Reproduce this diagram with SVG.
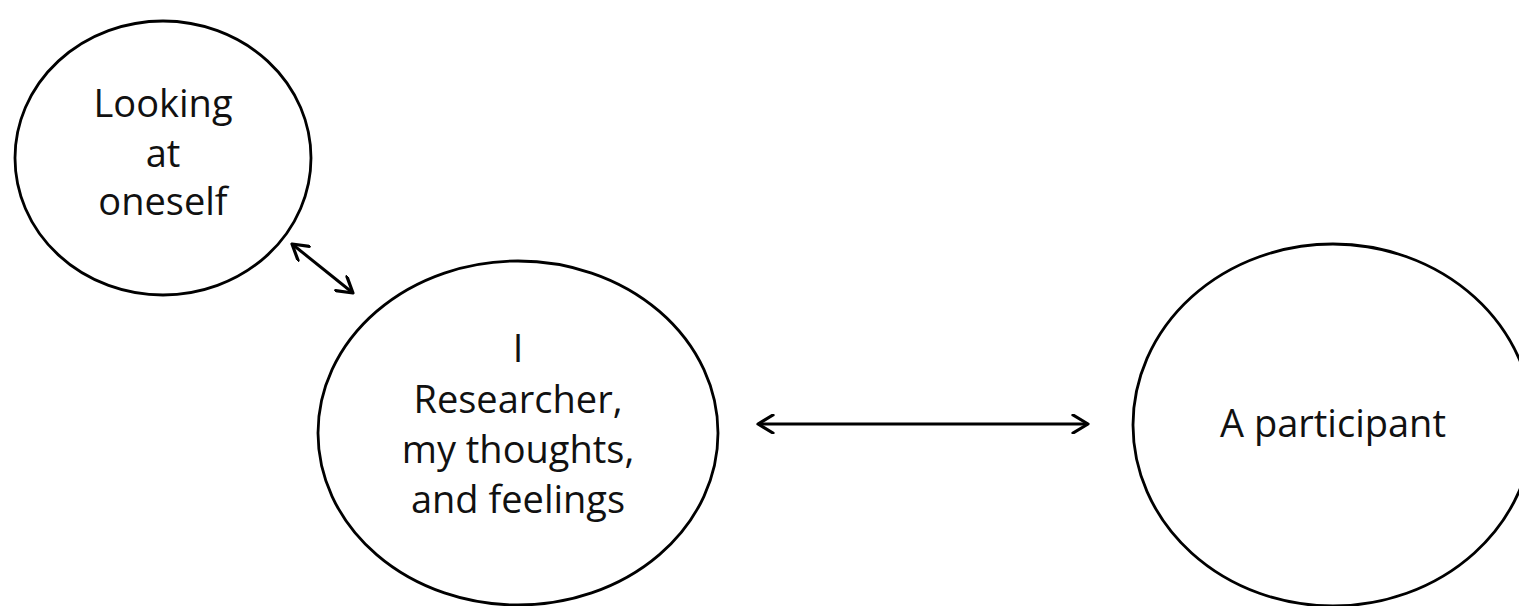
<svg xmlns="http://www.w3.org/2000/svg" width="1519" height="606" viewBox="0 0 1519 606">
<style>
.node ellipse{fill:#fff;stroke:#000;stroke-width:2.8}
.node text{font-family:"Open Sans","Liberation Sans",sans-serif;font-size:38px;fill:#111;text-anchor:middle}
.conn line{stroke:#000;stroke-width:3;fill:none}
</style>
<defs>
<marker id="arr" viewBox="0 0 20 20" refX="18" refY="10" markerWidth="20" markerHeight="20" markerUnits="userSpaceOnUse" orient="auto-start-reverse">
<path d="M3,1 L18,10 L3,19" fill="none" stroke="#000" stroke-width="3.2" stroke-linecap="round" stroke-linejoin="round"/>
</marker>
</defs>
<rect width="1519" height="606" fill="#fff"/>
<g id="node-looking" class="node">
<ellipse cx="163" cy="158" rx="148" ry="137"/>
<text x="163" y="117">Looking</text>
<text x="163" y="167">at</text>
<text x="163" y="215">oneself</text>
</g>
<g id="node-researcher" class="node">
<ellipse cx="518" cy="433" rx="200" ry="172"/>
<text x="518" y="362">I</text>
<text x="518" y="413">Researcher,</text>
<text x="518" y="463">my thoughts,</text>
<text x="518" y="513">and feelings</text>
</g>
<g id="node-participant" class="node">
<ellipse cx="1333" cy="425" rx="200" ry="181"/>
<text x="1333" y="437">A participant</text>
</g>
<g id="connectors" class="conn">
<line x1="292" y1="244" x2="353" y2="293" marker-start="url(#arr)" marker-end="url(#arr)"/>
<line x1="758" y1="424" x2="1088" y2="424" marker-start="url(#arr)" marker-end="url(#arr)"/>
</g>
</svg>
